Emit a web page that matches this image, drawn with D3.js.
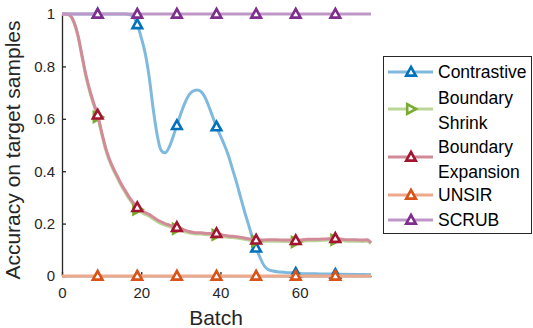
<!DOCTYPE html>
<html>
<head>
<meta charset="utf-8">
<script src="https://d3js.org/d3.v7.min.js"></script>
<style>
  body { margin: 0; background: #fff; }
  svg { font-family: "Liberation Sans", Arial, sans-serif; }
  .axis text { font-size: 15px; fill: #262626; }
  .axis path, .axis line { stroke: #262626; stroke-width: 1.3; }
</style>
</head>
<body>
<svg width="533" height="328"></svg>
<script>
var contrastiveX = [0, 16, 17, 18, 19, 20, 21, 22, 23, 24, 25, 26, 27, 28, 29, 30, 31, 32, 33, 34, 35, 36, 37, 38, 39, 40, 41, 42, 43, 44, 45, 46, 47, 48, 49, 50, 51, 52, 53, 55, 58, 60, 65, 70, 75, 78];
var contrastiveY = [1, 1, 0.998, 0.99, 0.96, 0.91, 0.85, 0.76, 0.64, 0.54, 0.48, 0.47, 0.49, 0.53, 0.575, 0.62, 0.66, 0.69, 0.705, 0.71, 0.705, 0.685, 0.65, 0.61, 0.57, 0.535, 0.5, 0.46, 0.41, 0.36, 0.305, 0.25, 0.2, 0.15, 0.107, 0.07, 0.04, 0.025, 0.02, 0.015, 0.012, 0.01, 0.008, 0.007, 0.006, 0.005];

var boundaryX = [0, 1, 2, 3, 4, 5, 6, 7, 8, 9, 10, 11, 12, 13, 14, 15, 16, 17, 18, 19, 20, 21, 22, 23, 24, 25, 26, 27, 28, 29, 30, 31, 32, 33, 34, 35, 36, 37, 38, 39, 40, 42, 44, 46, 48, 49, 50, 52, 54, 56, 58, 59, 60, 62, 64, 66, 68, 69, 70, 72, 74, 76, 77, 78];
var expansionY = [1, 1, 0.995, 0.97, 0.92, 0.845, 0.77, 0.71, 0.66, 0.615, 0.55, 0.49, 0.445, 0.41, 0.38, 0.35, 0.325, 0.3, 0.28, 0.262, 0.25, 0.242, 0.235, 0.225, 0.215, 0.207, 0.2, 0.195, 0.19, 0.186, 0.18, 0.175, 0.17, 0.167, 0.165, 0.165, 0.163, 0.162, 0.163, 0.163, 0.158, 0.153, 0.15, 0.145, 0.14, 0.138, 0.137, 0.138, 0.138, 0.137, 0.137, 0.136, 0.137, 0.14, 0.14, 0.141, 0.143, 0.144, 0.142, 0.138, 0.138, 0.137, 0.138, 0.127];
var shrinkY = [1, 1, 0.994, 0.968, 0.917, 0.841, 0.765, 0.704, 0.653, 0.607, 0.543, 0.483, 0.438, 0.403, 0.373, 0.343, 0.318, 0.293, 0.273, 0.254, 0.243, 0.235, 0.228, 0.218, 0.208, 0.2, 0.194, 0.189, 0.184, 0.18, 0.174, 0.169, 0.165, 0.162, 0.16, 0.16, 0.158, 0.157, 0.158, 0.157, 0.153, 0.148, 0.145, 0.14, 0.135, 0.133, 0.132, 0.133, 0.133, 0.132, 0.132, 0.13, 0.132, 0.135, 0.135, 0.136, 0.138, 0.138, 0.137, 0.133, 0.133, 0.132, 0.133, 0.124];

var flatX = [0, 78];
var unsirY = [0, 0];
var scrubY = [1, 1];

var markerX = [9, 19, 29, 39, 49, 59, 69];

var xTicks = [0, 20, 40, 60];
var yTicks = [0, 0.2, 0.4, 0.6, 0.8, 1];

var series = [
  { name: ["Contrastive"], xs: contrastiveX, ys: contrastiveY, color: "#0072BD", shape: "up" },
  { name: ["Boundary", "Shrink"], xs: boundaryX, ys: shrinkY, color: "#77AC30", shape: "right" },
  { name: ["Boundary", "Expansion"], xs: boundaryX, ys: expansionY, color: "#A2142F", shape: "up" },
  { name: ["UNSIR"], xs: flatX, ys: unsirY, color: "#D95319", shape: "up" },
  { name: ["SCRUB"], xs: flatX, ys: scrubY, color: "#7E2F8E", shape: "up" }
];

var svg = d3.select("svg");
var x = d3.scaleLinear().domain([0, 78]).range([62, 371]);
var y = d3.scaleLinear().domain([0, 1]).range([276, 14]);

svg.append("g")
  .attr("class", "axis")
  .attr("transform", "translate(0,276)")
  .call(d3.axisBottom(x).tickValues(xTicks).tickFormat(d3.format("d")).tickSize(-4).tickSizeOuter(0).tickPadding(11));

svg.append("g")
  .attr("class", "axis")
  .attr("transform", "translate(62,0)")
  .call(d3.axisLeft(y).tickValues(yTicks).tickFormat(function (d) { return d === 0 || d === 1 ? d : d.toFixed(1); }).tickSize(-4).tickSizeOuter(0).tickPadding(7));

svg.append("text")
  .attr("x", 216).attr("y", 325)
  .attr("text-anchor", "middle")
  .style("font-size", "21px").style("fill", "#262626")
  .text("Batch");

svg.append("text")
  .attr("transform", "translate(20,150) rotate(-90)")
  .attr("text-anchor", "middle")
  .style("font-size", "21px").style("fill", "#262626")
  .text("Accuracy on target samples");

function markerPath(shape) {
  if (shape === "right") return "M-3.8,-4.8L5,0L-3.8,4.8Z";
  return "M0,-5L4.8,3.6L-4.8,3.6Z";
}

// lines are the marker colour washed half way to white
function lineColor(c) {
  return d3.interpolateRgb(c, "#fff")(0.5);
}

function interp(xs, ys, v) {
  for (var i = 1; i < xs.length; i++) {
    if (v <= xs[i]) {
      var t = (v - xs[i - 1]) / (xs[i] - xs[i - 1]);
      return ys[i - 1] + t * (ys[i] - ys[i - 1]);
    }
  }
  return ys[ys.length - 1];
}

var line = d3.line()
  .x(function (d) { return x(d[0]); })
  .y(function (d) { return y(d[1]); })
  .curve(d3.curveMonotoneX);

series.forEach(function (s) {
  var g = svg.append("g");
  g.append("path")
    .datum(d3.zip(s.xs, s.ys))
    .attr("d", line)
    .attr("fill", "none")
    .attr("stroke", lineColor(s.color))
    .attr("stroke-width", 3);

  g.selectAll(".m")
    .data(markerX)
    .enter().append("path")
    .attr("class", "m")
    .attr("d", markerPath(s.shape))
    .attr("transform", function (d) { return "translate(" + x(d) + "," + y(interp(s.xs, s.ys, d)) + ")"; })
    .attr("fill", "#fff")
    .attr("stroke", s.color)
    .attr("stroke-width", 2.6);
});

// legend
var legend = svg.append("g");
legend.append("rect")
  .attr("x", 383.5).attr("y", 56.5)
  .attr("width", 148).attr("height", 177)
  .attr("fill", "#fff")
  .attr("stroke", "#262626")
  .attr("stroke-width", 1);

var legendY = [72, 109, 157, 195, 220];
series.forEach(function (s, i) {
  var cy = legendY[i];
  legend.append("line")
    .attr("x1", 388).attr("x2", 433)
    .attr("y1", cy).attr("y2", cy)
    .attr("stroke", lineColor(s.color))
    .attr("stroke-width", 3);
  legend.append("path")
    .attr("d", markerPath(s.shape))
    .attr("transform", "translate(411," + cy + ")")
    .attr("fill", "#fff")
    .attr("stroke", s.color)
    .attr("stroke-width", 2.6);
  var top = s.name.length === 1 ? cy : (i === 1 ? 98 : 147);
  s.name.forEach(function (t, j) {
    legend.append("text")
      .attr("x", 438)
      .attr("y", top + j * 24.5 + 6)
      .style("font-size", "17.5px")
      .style("fill", "#000")
      .text(t);
  });
});
</script>
</body>
</html>
